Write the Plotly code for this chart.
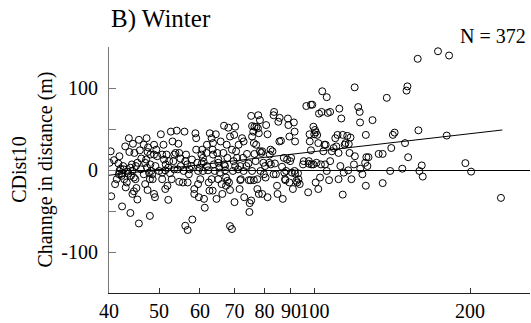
import plotly.graph_objects as go

# Body size (x, log scale) and change in distance (y) for 372 winter records
x_vals = [
    40.3, 40.1, 40.9, 40.4, 41.9, 41.7, 41.4, 41.1, 41.8, 42.4, 42.7, 42.8, 43.1, 42.4, 42.1, 41.9, 42.6, 42.3,
    43.0, 43.5, 43.7, 44.0, 43.8, 44.5, 44.3, 44.4, 44.7, 45.0, 44.1, 43.3, 45.2, 45.4, 45.7, 45.7, 45.9, 45.4,
    46.2, 46.1, 44.4, 44.8, 43.6, 45.1, 44.7, 44.0,
    46.7, 47.3, 47.6, 48.1, 48.1, 47.8, 48.0, 47.5, 48.0, 48.9, 48.6, 48.9, 49.2, 49.6, 47.0, 46.7, 47.0, 48.5,
    47.4, 48.3, 47.2, 48.9, 49.4, 49.1,
    50.4, 51.0, 50.7, 51.1, 51.5, 51.4, 52.1, 50.7, 51.9, 51.4, 52.1, 52.7, 53.1, 53.5, 53.3, 52.5, 52.9, 53.8,
    53.5, 50.7, 50.0, 52.3, 51.7,
    54.1, 54.5, 54.7, 54.3, 54.7, 56.0, 55.8, 56.4, 56.7, 56.8, 57.3, 57.7, 56.2, 55.6, 57.9, 55.1, 57.1,
    56.2, 56.8, 58.0, 58.8, 58.5, 59.0, 59.0, 59.3, 59.5, 59.9, 60.1, 59.5, 59.7, 60.6, 60.8, 60.5, 60.8, 61.1,
    61.3, 61.9, 61.8, 61.9, 62.2, 62.4, 62.6, 58.5, 60.4,
    62.7, 63.2, 63.5, 63.6, 63.8, 64.1, 63.2, 63.5, 64.6, 64.8, 65.1, 65.1, 65.4, 65.6, 66.1, 66.3, 65.1, 64.4,
    66.6, 66.8, 67.1, 67.4, 63.6, 65.8,
    66.8, 68.1, 68.6, 67.6, 69.2, 67.8, 69.7, 70.2, 67.8, 68.3, 67.4, 68.6, 68.6, 69.2, 70.2, 69.9, 70.5, 70.8,
    71.3, 71.1, 71.8, 72.0, 71.6, 70.0, 72.4, 72.9, 72.7, 72.9, 71.8, 69.5, 67.1,
    73.1, 74.0, 74.6, 75.2, 75.7, 75.7, 76.3, 75.4, 74.9, 74.8, 76.1, 76.3, 76.5, 76.9, 77.5, 77.5, 78.0, 75.4,
    75.7, 76.5, 77.2, 77.7, 77.1, 78.0, 78.4, 73.8,
    77.8, 78.4, 78.6, 78.9, 79.2, 79.6, 79.8, 80.2, 80.6, 80.4, 81.1, 81.7, 81.9, 82.2, 82.9, 83.3, 83.8, 84.2,
    83.3, 83.5, 79.2, 81.1, 82.3,
    84.6, 84.8, 85.1, 85.6, 85.5, 86.1, 86.8, 87.2, 87.4, 87.7, 87.8, 88.5, 88.8, 89.0, 89.4, 89.7, 90.1, 90.4,
    90.8, 91.2, 91.5, 91.7, 89.4, 88.1,
    91.5, 91.7, 92.2, 92.6, 92.9, 93.1, 95.0, 95.3, 96.4, 97.5, 97.5, 97.8, 97.9, 98.4, 98.7, 97.2, 93.6,
    98.4, 99.0, 99.5, 100.2, 99.9, 100.6, 101.2, 101.7, 100.9, 100.5, 101.7, 102.5, 102.0, 103.2, 102.9, 104.0,
    104.5, 105.1, 105.6, 99.5,
    103.5, 105.6, 106.1, 106.7, 107.2, 107.2, 108.9, 109.7, 110.2, 110.8, 111.3, 111.3, 111.7, 112.2, 112.7,
    113.4, 113.9, 114.4, 114.8, 104.8, 108.0,
    113.4, 115.7, 116.5, 116.9, 117.4, 117.9, 119.6, 119.7, 121.5, 122.3, 122.5, 125.7, 126.6, 125.7, 123.8,
    126.0, 125.3, 119.2, 116.2,
    127.2, 129.5, 133.1, 135.5, 135.5, 138.0, 140.8, 140.1, 141.8, 142.9,
    147.9, 149.7, 150.7, 151.3, 151.8, 158.4, 158.9, 159.6, 161.3, 162.0,
    173.4, 180.3, 182.2, 195.9, 201.0, 229.6,
    122.6, 55.0, 61.0, 86.5, 47.5, 74.5,
]
y_vals = [
    22.8, 8.8, 12.0, -32.0, 16.8, 8.0, -11.2, -17.2, -5.2, -4.4, 0.8, -11.2, -21.2, -44.4, 1.6, -1.2, 4.8, -7.2,
    28.8, -2.0, 38.8, -52.4, 22.0, 32.0, 6.8, -1.2, -26.0, -11.2, -7.2, -15.2, -22.0, -36.0, -65.2, 36.8, 24.0, 8.8,
    14.0, 0.8, -29.2, 20.8, -4.4, 4.8, -9.2, 2.8,
    30.8, 38.8, 27.6, 18.8, 6.8, -3.2, -11.2, -24.4, -56.0, 30.8, -11.2, -29.2, 4.8, 16.8, 8.8, -5.2, -17.2, -5.2,
    2.8, -1.2, 12.8, 18.8, 24.8, -33.2,
    43.6, 30.8, 18.8, 12.8, 6.8, -0.4, 2.8, -11.2, -19.2, -23.2, -36.4, 46.8, 34.8, 18.8, 10.8, -4.0, -11.2, 20.8,
    0.8, -3.2, -1.2, 10.8, 18.8,
    48.0, 32.0, 20.8, 0.8, -14.4, 46.8, -1.2, 18.8, 6.8, -15.2, 0.8, 4.8, 10.8, -15.2, 12.8, 4.8, -5.2,
    -68.0, -73.2, -60.4, 44.8, -23.2, 38.8, 24.8, 8.8, -1.2, 2.8, -11.2, -17.2, -33.2, 24.8, 14.8, 8.0, -1.2, -35.2,
    -46.0, 30.8, 20.8, 4.8, -0.4, -15.2, -25.2, -29.2, 18.8,
    44.8, 38.8, 24.8, 18.8, 6.8, -1.2, -11.2, -25.2, -35.2, 20.8, 12.8, 8.8, 2.8, -3.2, -17.2, -29.2, -11.2, 43.6,
    20.8, 6.8, -0.4, -9.2, 32.8, 34.8,
    54.0, 51.6, 40.8, 30.8, 24.8, 14.8, 10.8, 4.8, -13.2, -15.2, -19.2, -24.4, -68.4, -72.0, 52.8, 42.8, 22.8, 14.8,
    30.8, 0.8, 4.8, -11.2, -23.2, -39.2, 38.8, 34.8, 14.8, -1.2, -12.4, -1.2, 4.8,
    -33.2, 19.6, -12.4, -12.4, 40.8, -1.2, -12.4, -37.2, -40.4, -51.2, 46.8, 32.8, 19.6, 10.8, -11.2, -23.2, -29.2, 66.0,
    53.6, 52.8, 52.8, 50.8, 30.8, 44.8, 22.8, 4.8,
    66.8, 60.8, -1.2, 20.8, 22.8, 8.8, -5.2, 4.8, 54.8, -9.2, -33.2, 8.8, 18.8, 24.8, 22.8, -5.2, 8.0, -5.2,
    66.8, 70.8, -29.2, 43.6, 6.8,
    -19.2, -29.2, 58.8, 63.6, 34.8, 35.6, -35.2, 14.8, -3.2, -11.2, -12.4, 12.8, 62.8, 54.8, 40.8, 10.8, 14.8, -3.2,
    -23.2, 58.0, 46.8, 34.8, -15.2, -1.2,
    -1.2, -4.4, -13.2, -15.2, -4.0, -11.2, 6.8, 10.8, 78.0, 10.8, 7.6, 43.6, 34.8, 24.0, 6.8, -27.2, -17.2,
    79.6, 79.6, 52.8, 48.8, 43.6, 46.0, 42.8, 32.8, 8.8, -15.2, -23.2, -9.2, 68.8, 70.8, 6.8, 22.8,
    30.8, 30.8, -1.2, 6.8,
    96.0, 88.8, 69.6, -12.4, 10.8, 70.8, 26.8, 38.8, 28.8, 42.8, 20.8, -11.2, 74.8, 4.8, 62.8,
    42.8, -3.2, 30.8, 32.8, 6.8, 22.8,
    -30.0, 41.6, 31.6, 20.8, 39.6, -11.2, 100.8, 16.8, 76.8, 70.8, 58.0, 42.8, 4.8, -19.2, -5.2,
    15.6, 8.8, 6.8, -0.4,
    15.6, 60.8, 19.6, 19.6, -16.0, 88.0, 26.8, -1.2, 42.8, 45.6,
    1.6, 32.8, 96.8, 102.0, 15.6, 135.6, 48.4, -1.2, 5.6, -8.0,
    144.8, 42.0, 139.6, 8.4, -2.0, -34.0,
    1.6, 14.0, 10.0, 4.0, 22.0, 8.0,
]

# Fitted trend line (end points)
fit_x = [40, 231]
fit_y = [-6.4, 48.8]

x_ticks = [40, 50, 60, 70, 80, 90, 100, 200]
x_tick_text = ["40", "50", "60", "70", "80", "90", "100", "200"]
y_ticks = [-150, -100, -50, 0, 50, 100, 150]
y_tick_text = ["", "-100", "", "0", "", "100", ""]

FONT = "Times New Roman, Liberation Serif, Times, serif"

fig = go.Figure()
fig.add_trace(go.Scatter(
    x=x_vals, y=y_vals, mode="markers",
    marker=dict(symbol="circle-open", size=7, color="black", line=dict(width=1, color="black")),
    showlegend=False, hoverinfo="skip",
))
fig.add_trace(go.Scatter(
    x=fit_x, y=fit_y, mode="lines",
    line=dict(color="black", width=1), showlegend=False, hoverinfo="skip",
))

fig.update_layout(
    width=531, height=323,
    margin=dict(l=109, r=1, t=47, b=26),
    paper_bgcolor="white", plot_bgcolor="white",
    font=dict(family=FONT, size=20, color="black"),
    xaxis=dict(
        type="log", range=[1.60206, 2.4172],
        tickvals=x_ticks, ticktext=x_tick_text, tickangle=0,
        ticks="inside", ticklen=5, tickwidth=1, tickcolor="#333333",
        showline=True, linecolor="#222222", linewidth=1.2,
        showgrid=False, zeroline=False,
        tickfont=dict(family=FONT, size=20, color="black"),
    ),
    yaxis=dict(
        range=[-150, 150],
        tickvals=y_ticks, ticktext=y_tick_text,
        ticks="inside", ticklen=7, tickwidth=1, tickcolor="#777777",
        ticklabelstandoff=6,
        showline=True, linecolor="#777777", linewidth=1.2,
        showgrid=False,
        zeroline=True, zerolinecolor="black", zerolinewidth=1.2,
        tickfont=dict(family=FONT, size=20, color="black"),
    ),
    annotations=[
        dict(text="B) Winter", xref="paper", yref="paper", x=0.0, y=1.112,
             xanchor="left", yanchor="middle", showarrow=False,
             font=dict(family=FONT, size=25, color="black")),
        dict(text="N = 372", xref="paper", yref="paper", x=0.995, y=1.045,
             xanchor="right", yanchor="middle", showarrow=False,
             font=dict(family=FONT, size=20, color="black")),
        dict(text="CDist10<br>Channge in distance (m)", xref="paper", yref="paper",
             x=-0.184, y=0.5, xanchor="center", yanchor="middle", textangle=-90,
             showarrow=False, font=dict(family=FONT, size=20, color="black")),
    ],
)

fig.write_html(
    "out.html",
    config={"displayModeBar": False},
    post_script="document.body.style.margin='0';document.body.style.padding='0';",
)
